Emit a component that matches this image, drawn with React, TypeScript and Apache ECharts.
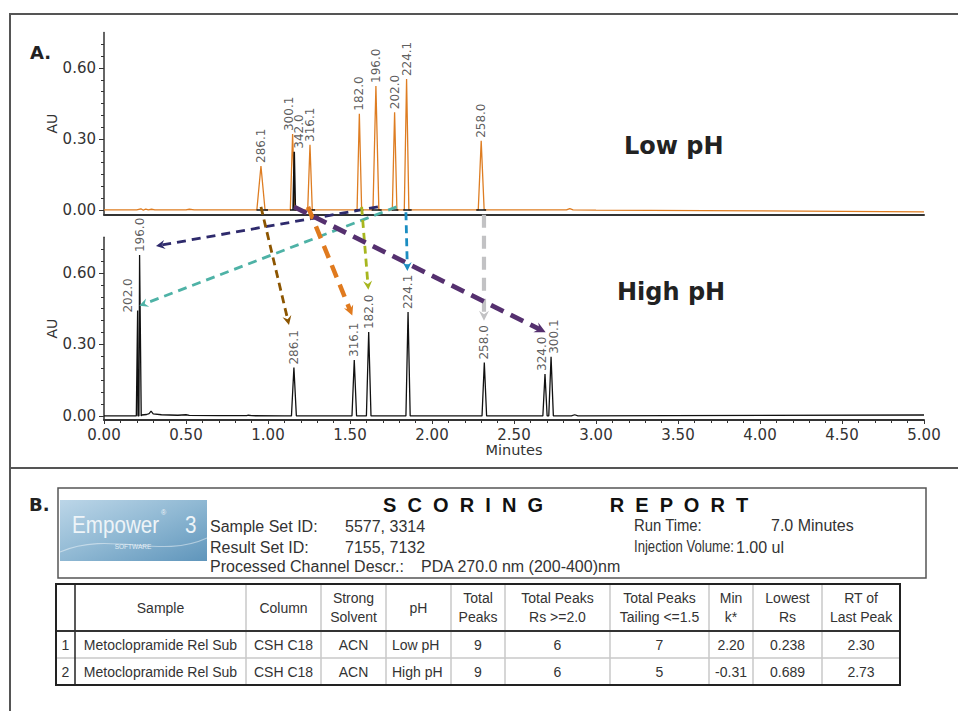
import React, { useEffect, useRef } from "react";
import * as echarts from "echarts";

// ---------- DATA ----------
// Panel A, Low pH trace (orange)
const lowPhPeakLabels = ["286.1", "300.1", "316.1", "182.0", "196.0", "202.0", "224.1", "258.0"];
const lowPhPeakTimes = [0.957, 1.150, 1.256, 1.557, 1.658, 1.772, 1.845, 2.300];
const lowPhPeakHeights = [0.186, 0.321, 0.275, 0.407, 0.524, 0.413, 0.553, 0.292];
const lowPhPeakHalfWidths = [0.025, 0.014, 0.014, 0.014, 0.018, 0.014, 0.014, 0.018];
const lowPhBaseline: [number, number][] = [
  [0, 0], [0.2, 0], [0.225, 0.005], [0.24, -0.001], [0.255, 0.004], [0.27, 0], [0.29, 0.003],
  [0.31, 0], [0.5, 0], [0.52, 0.003], [0.55, 0], [2.82, 0], [2.84, 0.006], [2.86, 0],
  [3.0, -0.001], [4.0, -0.004], [5.0, -0.008],
];
// Panel A, second (black) peak
const lowPhBlackLabels = ["342.0"];
const lowPhBlackTimes = [1.160];
const lowPhBlackHeights = [0.246];
const lowPhBlackHalfWidths = [0.007];
// Panel A, integration marks (start, end in minutes)
const lowPhIntegrationMarks: [number, number][] = [
  [0.93, 1.0], [1.134, 1.175], [1.241, 1.287], [1.53, 1.58], [1.632, 1.693],
  [1.754, 1.795], [1.825, 1.876], [2.27, 2.33],
];

// Panel A, High pH trace (black)
const highPhPeakLabels = ["202.0", "196.0", "286.1", "316.1", "182.0", "224.1", "258.0", "324.0", "300.1"];
const highPhPeakTimes = [0.205, 0.217, 1.158, 1.526, 1.614, 1.854, 2.319, 2.689, 2.726];
const highPhPeakHeights = [0.442, 0.675, 0.203, 0.235, 0.352, 0.436, 0.224, 0.176, 0.248];
const highPhPeakHalfWidths = [0.008, 0.010, 0.015, 0.014, 0.014, 0.013, 0.014, 0.013, 0.014];
const highPhBaseline: [number, number][] = [
  [0, 0], [0.19, 0], [0.23, 0.004], [0.26, 0.006], [0.275, 0.01], [0.287, 0.02], [0.3, 0.009],
  [0.35, 0.005], [0.45, 0.003], [0.5, 0.005], [0.52, 0.002], [0.7, 0.001], [0.87, 0.001],
  [0.88, 0.003], [0.9, 0.001], [1.1, 0], [2.85, 0], [2.87, 0.005], [2.89, 0], [5.0, 0.004],
];

// Arrows linking the same compound (Low pH -> High pH)
const arrowCompounds = ["196.0", "202.0", "286.1", "316.1", "182.0", "224.1", "258.0", "300.1"];
const arrowStartTimes = [1.670, 1.784, 0.957, 1.244, 1.571, 1.841, 2.317, 1.159];
const arrowStartValues = [0.013, 0.013, 0.013, 0.013, 0.013, -0.01, -0.02, 0.013];
const arrowEndTimes = [0.317, 0.215, 1.128, 1.514, 1.612, 1.850, 2.317, 2.693];
const arrowEndValues = [0.713, 0.462, 0.382, 0.421, 0.529, 0.608, 0.399, 0.351];

// Axis ticks
const xTickInterval = 0.5;
const yMajorTicks = [0, 0.3, 0.6];
const yMinorTicks = [0.05, 0.1, 0.15, 0.2, 0.25, 0.35, 0.4, 0.45, 0.5, 0.55, 0.65, 0.7];

// Panel B, scoring report
const reportLeftLabels = ["Sample Set ID:", "Result Set ID:", "Processed Channel Descr.:"];
const reportLeftValues = ["5577, 3314", "7155, 7132", "PDA 270.0 nm (200-400)nm"];
const reportRightLabels = ["Run Time:", "Injection Volume:"];
const reportRightValues = ["7.0 Minutes", "1.00 ul"];
const tableHeaders = [
  "", "Sample", "Column", "Strong\nSolvent", "pH", "Total\nPeaks", "Total Peaks\nRs >=2.0",
  "Total Peaks\nTailing <=1.5", "Min\nk*", "Lowest\nRs", "RT of\nLast Peak",
];
const tableRows = [
  ["1", "Metoclopramide Rel Sub", "CSH C18", "ACN", "Low pH", "9", "6", "7", "2.20", "0.238", "2.30"],
  ["2", "Metoclopramide Rel Sub", "CSH C18", "ACN", "High pH", "9", "6", "5", "-0.31", "0.689", "2.73"],
];

// ---------- STYLES ----------
const FONT = '"DejaVu Sans", Verdana, sans-serif';
const RFONT = '"Liberation Sans", Arial, sans-serif';
const TXT = "#333";
const ORANGE = "#de7d22";
const arrowStyles: Record<string, { color: string; width: number; dash: number[]; head: number }> = {
  "196.0": { color: "#2e2a6c", width: 2.8, dash: [9, 6], head: 9 },
  "202.0": { color: "#4eb2a6", width: 2.8, dash: [9, 6], head: 9 },
  "286.1": { color: "#8c5500", width: 2.8, dash: [8, 5], head: 9 },
  "316.1": { color: "#e07a1e", width: 4.5, dash: [13, 8], head: 10 },
  "182.0": { color: "#a7b61f", width: 2.8, dash: [8, 5], head: 9 },
  "224.1": { color: "#1b8dc1", width: 2.8, dash: [8, 5], head: 9 },
  "258.0": { color: "#c2c2c4", width: 4.2, dash: [13, 8], head: 10 },
  "300.1": { color: "#55306f", width: 4.8, dash: [14, 8], head: 11 },
};
// label offsets are in the rotated label frame: [along text (up), across text (right)]
const labelOffsets: Record<string, [number, number]> = {
  "A300.1": [0, -4], "A342.0": [0, 5], "B202.0": [-5, -10], "B324.0": [0, -3], "B300.1": [0, 3],
};
const colEdges = [56, 75, 246, 321, 386, 451, 505, 610, 709, 753, 822, 900];
const rowEdges = [584, 631, 658, 685];

function buildTrace(
  baseline: [number, number][], times: number[], heights: number[], halfWidths: number[],
): [number, number][] {
  const pts: [number, number][] = baseline.map((p) => [p[0], p[1]]);
  times.forEach((t, i) => {
    pts.push([t - halfWidths[i], 0]);
    pts.push([t, heights[i]]);
    pts.push([t + halfWidths[i], 0]);
  });
  pts.sort((a, b) => a[0] - b[0]);
  return pts;
}

function labelData(prefix: string, labels: string[], times: number[], heights: number[]) {
  return labels.map((l, i) => ({
    name: l,
    value: [times[i], heights[i]],
    label: { offset: labelOffsets[prefix + l] || [0, 0] },
  }));
}

const peakLabelStyle = {
  show: true,
  formatter: "{b}",
  rotate: 90,
  position: "top",
  distance: 3,
  align: "left",
  verticalAlign: "middle",
  fontSize: 12,
  fontFamily: FONT,
  color: TXT,
};

function yAxes(gridIndex: number, min: number) {
  return [
    {
      gridIndex, type: "value", min, max: 0.75, position: "left",
      axisLine: { show: true, onZero: false, lineStyle: { color: "#333", width: 1.5 } },
      axisTick: { show: true, length: 5, customValues: yMajorTicks, lineStyle: { color: "#333" } },
      axisLabel: {
        customValues: yMajorTicks, formatter: (v: number) => v.toFixed(2),
        fontSize: 15, fontFamily: FONT, color: TXT, margin: 8,
      },
      splitLine: { show: false },
      name: "AU", nameLocation: "middle", nameGap: 45, nameMoveOverlap: false,
      nameTextStyle: { fontSize: 14, fontFamily: FONT, color: TXT },
    },
    {
      gridIndex, type: "value", min, max: 0.75, position: "left",
      axisLine: { show: false },
      axisTick: { show: true, length: 3, customValues: yMinorTicks, lineStyle: { color: "#333" } },
      axisLabel: { show: false },
      splitLine: { show: false },
    },
  ];
}

export default function App() {
  const ref = useRef<HTMLDivElement>(null);
  useEffect(() => {
    if (!ref.current) return;
    const chart = echarts.init(ref.current, null, { renderer: "svg" });

    const option: any = {
      animation: false,
      backgroundColor: "#fff",
      grid: [
        { left: 104, top: 32.5, width: 820, height: 182.2, outerBoundsMode: "none" },
        { left: 104, top: 237.2, width: 820, height: 182.8, outerBoundsMode: "none" },
      ],
      xAxis: [
        {
          gridIndex: 0, type: "value", min: 0, max: 5, interval: xTickInterval,
          axisLine: { show: true, onZero: false, lineStyle: { color: "#333", width: 2 } },
          axisTick: { show: false }, axisLabel: { show: false }, splitLine: { show: false },
        },
        {
          gridIndex: 1, type: "value", min: 0, max: 5, interval: xTickInterval,
          axisLine: { show: true, onZero: false, lineStyle: { color: "#333", width: 2 } },
          axisTick: { show: true, length: 4, lineStyle: { color: "#333" } },
          minorTick: { show: true, splitNumber: 5, length: 3, lineStyle: { color: "#333" } },
          axisLabel: {
            formatter: (v: number) => v.toFixed(2), fontSize: 15, fontFamily: FONT, color: TXT, margin: 7,
          },
          splitLine: { show: false },
          name: "Minutes", nameLocation: "middle", nameGap: 22,
          nameTextStyle: { fontSize: 14.5, fontFamily: FONT, color: TXT },
        },
      ],
      yAxis: [...yAxes(0, -0.02), ...yAxes(1, -0.017)],
      series: [
        {
          type: "line", xAxisIndex: 0, yAxisIndex: 0, symbol: "none", z: 3,
          data: buildTrace(lowPhBaseline, lowPhPeakTimes, lowPhPeakHeights, lowPhPeakHalfWidths),
          lineStyle: { color: ORANGE, width: 1.3 },
        },
        {
          type: "line", xAxisIndex: 0, yAxisIndex: 0, symbol: "none", z: 4,
          data: buildTrace([], lowPhBlackTimes, lowPhBlackHeights, lowPhBlackHalfWidths),
          lineStyle: { color: "#111", width: 1.6 },
        },
        {
          type: "lines", coordinateSystem: "cartesian2d", xAxisIndex: 0, yAxisIndex: 0, z: 4,
          data: lowPhIntegrationMarks.map((m) => ({ coords: [[m[0], 0], [m[1], 0]] })),
          lineStyle: { color: "#111", width: 1.5, opacity: 1 },
        },
        {
          type: "scatter", xAxisIndex: 0, yAxisIndex: 0, symbolSize: 0,
          data: [
            ...labelData("A", lowPhPeakLabels, lowPhPeakTimes, lowPhPeakHeights),
            ...labelData("A", lowPhBlackLabels, lowPhBlackTimes, lowPhBlackHeights),
          ],
          label: peakLabelStyle,
        },
        {
          type: "line", xAxisIndex: 1, yAxisIndex: 2, symbol: "none", z: 3,
          data: buildTrace(highPhBaseline, highPhPeakTimes, highPhPeakHeights, highPhPeakHalfWidths),
          lineStyle: { color: "#111", width: 1.3 },
        },
        {
          type: "scatter", xAxisIndex: 1, yAxisIndex: 2, symbolSize: 0,
          data: labelData("B", highPhPeakLabels, highPhPeakTimes, highPhPeakHeights),
          label: peakLabelStyle,
        },
      ],
    };
    chart.setOption(option);

    const g: any[] = [];
    const txt = (x: number, y: number, text: string, o: any = {}) =>
      g.push({
        type: "text", x, y, z: 60, silent: true, scaleX: o.sx || 1,
        style: {
          text, fill: o.fill || TXT, fontSize: o.size || 15, fontFamily: o.family || RFONT,
          fontWeight: o.weight || "normal", align: o.align || "left", verticalAlign: "middle",
          textAlign: o.align || "left", textVerticalAlign: "middle", lineHeight: o.lh,
        },
      });
    const line = (x1: number, y1: number, x2: number, y2: number, stroke: string, w: number) =>
      g.push({ type: "line", z: 55, silent: true, shape: { x1, y1, x2, y2 }, style: { stroke, lineWidth: w } });

    // Frame
    line(10, 14, 960, 14, "#555", 2);
    line(10, 13, 10, 711, "#555", 2);
    line(10, 468, 960, 468, "#555", 2);

    txt(30, 52, "A.", { size: 18, weight: "bold", family: FONT, fill: "#222" });
    txt(624, 146, "Low pH", { size: 24, weight: "bold", family: FONT, fill: "#222" });
    txt(617, 292, "High pH", { size: 24, weight: "bold", family: FONT, fill: "#222" });

    // Arrows
    arrowCompounds.forEach((c, i) => {
      const s = arrowStyles[c];
      const p0 = chart.convertToPixel({ gridIndex: 0 } as any, [arrowStartTimes[i], arrowStartValues[i]]) as number[];
      const p1 = chart.convertToPixel({ gridIndex: 1 } as any, [arrowEndTimes[i], arrowEndValues[i]]) as number[];
      const dx = p1[0] - p0[0];
      const dy = p1[1] - p0[1];
      const len = Math.hypot(dx, dy);
      const ux = dx / len;
      const uy = dy / len;
      const nx = -uy;
      const ny = ux;
      const L = s.head;
      const W = s.head * 0.5;
      const bx = p1[0] - ux * L;
      const by = p1[1] - uy * L;
      g.push({
        type: "line", z: 50, silent: true,
        shape: { x1: p0[0], y1: p0[1], x2: p1[0] - ux * L * 0.6, y2: p1[1] - uy * L * 0.6 },
        style: { stroke: s.color, lineWidth: s.width, lineDash: s.dash },
      });
      g.push({
        type: "polygon", z: 51, silent: true,
        shape: {
          points: [
            [p1[0], p1[1]],
            [bx + nx * W, by + ny * W],
            [p1[0] - ux * L * 0.65, p1[1] - uy * L * 0.65],
            [bx - nx * W, by - ny * W],
          ],
        },
        style: { fill: s.color },
      });
    });

    // Panel B
    txt(29, 504, "B.", { size: 18, weight: "bold", family: FONT, fill: "#222" });
    g.push({
      type: "rect", z: 55, silent: true, shape: { x: 58, y: 488, width: 868, height: 90 },
      style: { fill: "none", stroke: "#555", lineWidth: 1.5 },
    });
    // logo
    g.push({
      type: "rect", z: 56, silent: true, shape: { x: 60, y: 500, width: 147, height: 61 },
      style: {
        fill: new echarts.graphic.LinearGradient(0, 0, 1, 1, [
          { offset: 0, color: "#bcd6e8" },
          { offset: 0.5, color: "#8fb8d3" },
          { offset: 1, color: "#5f95bb" },
        ]),
      },
    });
    g.push({
      type: "bezierCurve", z: 57, silent: true,
      shape: { x1: 60, y1: 552, x2: 207, y2: 538, cpx1: 110, cpy1: 530, cpx2: 160, cpy2: 560 },
      style: { stroke: "rgba(255,255,255,0.45)", lineWidth: 1.2, fill: "none" },
    });
    txt(72, 525, "Empower", { size: 24, family: RFONT, fill: "#eef4f8", sx: 0.86 });
    txt(161, 512, "®", { size: 7, family: RFONT, fill: "#eef4f8" });
    txt(185, 525, "3", { size: 24, family: RFONT, fill: "#eef4f8", sx: 0.86 });
    txt(133, 546, "SOFTWARE", { size: 6.5, family: RFONT, fill: "#e3edf4", align: "center" });

    txt(383, 505, "S  C  O  R  I  N  G            R  E  P  O  R  T", {
      size: 20, weight: "bold", family: RFONT, fill: "#111",
    });
    const leftY = [526, 547, 566];
    reportLeftLabels.forEach((l, i) => txt(210, leftY[i], l, { size: 16 }));
    reportLeftValues.forEach((v, i) => txt(i === 2 ? 421 : 345, leftY[i], v, { size: 16 }));
    const rightY = [525, 547];
    const rightScale = [0.93, 0.82];
    reportRightLabels.forEach((l, i) => txt(634, rightY[i], l, { size: 16, sx: rightScale[i] }));
    reportRightValues.forEach((v, i) => txt(i === 0 ? 771 : 736, rightY[i], v, { size: 16 }));

    // table
    for (let c = 2; c < colEdges.length - 1; c++) line(colEdges[c], rowEdges[0], colEdges[c], rowEdges[3], "#c8c8c8", 1.5);
    line(colEdges[0], rowEdges[2], colEdges[colEdges.length - 1], rowEdges[2], "#c8c8c8", 1.5);
    line(colEdges[1], rowEdges[0], colEdges[1], rowEdges[3], "#222", 1.5);
    line(colEdges[0], rowEdges[1], colEdges[colEdges.length - 1], rowEdges[1], "#333", 1.8);
    g.push({
      type: "rect", z: 58, silent: true,
      shape: { x: colEdges[0], y: rowEdges[0], width: colEdges[colEdges.length - 1] - colEdges[0], height: rowEdges[3] - rowEdges[0] },
      style: { fill: "none", stroke: "#222", lineWidth: 2 },
    });
    tableHeaders.forEach((h, c) => {
      if (!h) return;
      const cx = (colEdges[c] + colEdges[c + 1]) / 2;
      txt(cx, (rowEdges[0] + rowEdges[1]) / 2, h, { size: 14, align: "center", lh: 19 });
    });
    tableRows.forEach((row, r) => {
      const cy = (rowEdges[r + 1] + rowEdges[r + 2]) / 2;
      row.forEach((v, c) => {
        if (c === 4) txt(colEdges[c] + 6, cy, v, { size: 14 });
        else txt((colEdges[c] + colEdges[c + 1]) / 2, cy, v, { size: 14, align: "center" });
      });
    });

    chart.setOption({ graphic: { elements: g } });
    return () => chart.dispose();
  }, []);

  return (
    <div
      ref={ref}
      style={{ position: "absolute", left: 0, top: 0, width: 958, height: 711, background: "#fff" }}
    />
  );
}
